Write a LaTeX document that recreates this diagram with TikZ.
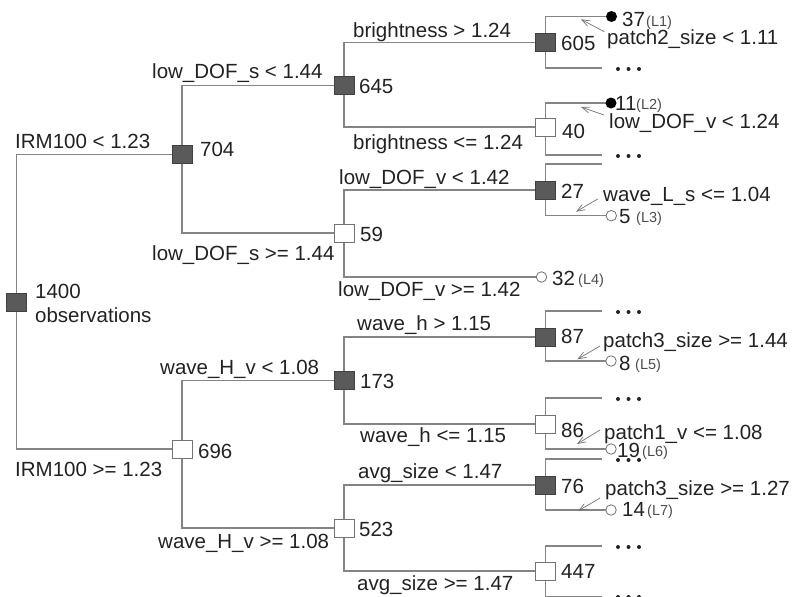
\documentclass[tikz,border=0pt]{standalone}
\usepackage{fontspec}
\setmainfont{Liberation Sans}
\usetikzlibrary{arrows.meta,backgrounds}
\definecolor{linegray}{HTML}{858585}
\definecolor{boxdark}{HTML}{5A5A5A}
\definecolor{txt}{HTML}{222222}
\begin{document}
\begin{tikzpicture}[x=1pt,y=-1pt,
  every node/.style={text=txt},
  dk/.style={draw=black!75, fill=boxdark, minimum width=20pt, minimum height=18pt, inner sep=0pt, line width=0.8pt},
  wt/.style={draw=black!55, fill=white, minimum width=20pt, minimum height=18pt, inner sep=0pt, line width=0.8pt},
  lf/.style={circle, draw=black!55, fill=white, minimum size=10.5pt, inner sep=0pt, line width=0.8pt},
  lfb/.style={circle, fill=black, minimum size=11pt, inner sep=0pt},
  conn/.style={draw=linegray, line width=1.3pt},
  lab/.style={anchor=base west, inner sep=0pt, font=\fontsize{20.5}{24}\selectfont},
  sm/.style={anchor=base west, inner sep=0pt, font=\fontsize{14.5}{16}\selectfont, text=black!70},
  arr/.style={draw=black!55, line width=0.7pt, -{Straight Barb[length=8pt,width=6pt]}},
  edot/.style={fill=txt},
]
\useasboundingbox (0,0) rectangle (793,597);
% boxes
\node[dk] (n1400) at (16.5,302) {};
\node[dk] (n704) at (182,154.5) {};
\node[wt] (n696) at (182,449) {};
\node[dk] (n645) at (344,85.5) {};
\node[wt] (n59) at (344,233) {};
\node[dk] (n173) at (344,380.5) {};
\node[wt] (n523) at (344,528) {};
\node[dk] (n605) at (545.5,42.5) {};
\node[wt] (n40) at (545.5,127) {};
\node[dk] (n27) at (545.5,190) {};
\node[dk] (n87) at (545.5,337) {};
\node[wt] (n86) at (545.5,424) {};
\node[dk] (n76) at (545.5,485) {};
\node[wt] (n447) at (545.5,571) {};
% leaves
\node[lfb] (L1) at (611.5,16.5) {};
\node[lfb] (L2) at (611,103) {};
\node[lf] (L3) at (611.3,215.7) {};
\node[lf] (L4) at (541.5,277) {};
\node[lf] (L5) at (611,361) {};
\node[lf] (L6) at (611,449) {};
\node[lf] (L7) at (611,510) {};
% open ends
\coordinate (e605) at (602,68);
\coordinate (e40) at (602,155);
\coordinate (e27) at (602,164);
\coordinate (e87) at (602,311);
\coordinate (e86) at (602,398);
\coordinate (e76) at (602,459);
\coordinate (e447a) at (602,546);
\coordinate (e447b) at (602,597);
\begin{pgfonlayer}{background}
\draw[conn] (n1400.center) |- (n704.center);
\draw[conn] (n1400.center) |- (n696.center);
\draw[conn] (n704.center) |- (n645.center);
\draw[conn] (n704.center) |- (n59.center);
\draw[conn] (n696.center) |- (n173.center);
\draw[conn] (n696.center) |- (n523.center);
\draw[conn] (n645.center) |- (n605.center);
\draw[conn] (n645.center) |- (n40.center);
\draw[conn] (n59.center) |- (n27.center);
\draw[conn] (n59.center) |- (L4.center);
\draw[conn] (n173.center) |- (n87.center);
\draw[conn] (n173.center) |- (n86.center);
\draw[conn] (n523.center) |- (n76.center);
\draw[conn] (n523.center) |- (n447.center);
\draw[conn] (n605.center) |- (L1.center);
\draw[conn] (n605.center) |- (e605);
\draw[conn] (n40.center) |- (L2.center);
\draw[conn] (n40.center) |- (e40);
\draw[conn] (n27.center) |- (e27);
\draw[conn] (n27.center) |- (L3.center);
\draw[conn] (n87.center) |- (e87);
\draw[conn] (n87.center) |- (L5.center);
\draw[conn] (n86.center) |- (e86);
\draw[conn] (n86.center) |- (L6.center);
\draw[conn] (n76.center) |- (e76);
\draw[conn] (n76.center) |- (L7.center);
\draw[conn] (n447.center) |- (e447a);
\draw[conn] (n447.center) |- (e447b);
\end{pgfonlayer}
% ellipsis dots
\foreach \yy in {69,156,312,399,460,547,597}{
  \foreach \xx in {618,628.5,639}{
    \fill[edot] (\xx,\yy) circle (2pt);
  }
}
% split labels
\node[lab] (t1) at (15,148) {IRM100 < 1.23};
\node[lab] (t2) at (15,476) {IRM100 >= 1.23};
\node[lab] (t3) at (152,78) {low\_DOF\_s < 1.44};
\node[lab] (t4) at (152,260) {low\_DOF\_s >= 1.44};
\node[lab] (t5) at (160,374) {wave\_H\_v < 1.08};
\node[lab] (t6) at (158,548) {wave\_H\_v >= 1.08};
\node[lab] (t7) at (353,37) {brightness > 1.24};
\node[lab] (t8) at (353,149) {brightness <= 1.24};
\node[lab] (t9) at (339,184) {low\_DOF\_v < 1.42};
\node[lab] (t10) at (338,296.5) {low\_DOF\_v >= 1.42};
\node[lab] (t11) at (357,330.5) {wave\_h > 1.15};
\node[lab] (t12) at (360,442.5) {wave\_h <= 1.15};
\node[lab] (t13) at (358,478) {avg\_size < 1.47};
\node[lab] (t14) at (357,590) {avg\_size >= 1.47};
\node[lab] (t15) at (607,45) {patch2\_size < 1.11};
\node[lab] (t16) at (609,128) {low\_DOF\_v < 1.24};
\node[lab] (t17) at (603,201.5) {wave\_L\_s <= 1.04};
\node[lab] (t18) at (603,347) {patch3\_size >= 1.44};
\node[lab] (t19) at (604,439.5) {patch1\_v <= 1.08};
\node[lab] (t20) at (605,495) {patch3\_size >= 1.27};
% counts
\node[lab] (c1400) at (35,298) {1400};
\node[lab] (cobs) at (35,322) {observations};
\node[lab] (c704) at (200,156) {704};
\node[lab] (c696) at (198,458) {696};
\node[lab] (c645) at (359,93) {645};
\node[lab] (c59) at (360,241) {59};
\node[lab] (c173) at (360,388) {173};
\node[lab] (c523) at (359,536) {523};
\node[lab] (c605) at (561,50) {605};
\node[lab] (c40) at (562,138) {40};
\node[lab] (c27) at (561,198) {27};
\node[lab] (c87) at (561,343) {87};
\node[lab] (c86) at (561,437) {86};
\node[lab] (c76) at (561,493) {76};
\node[lab] (c447) at (561,578) {447};
% leaf counts
\node[lab] (v1) at (622,27) {37};
\node[sm] (w1) at (646,26) {(L1)};
\node[lab] (v2) at (615,110) {11};
\node[sm] (w2) at (636,109) {(L2)};
\node[lab] (v3) at (619,223) {5};
\node[sm] (w3) at (636,222) {(L3)};
\node[lab] (v4) at (552,285) {32};
\node[sm] (w4) at (578,284) {(L4)};
\node[lab] (v5) at (619,370) {8};
\node[sm] (w5) at (635,369) {(L5)};
\node[lab] (v6) at (617,457.5) {19};
\node[sm] (w6) at (642,456.5) {(L6)};
\node[lab] (v7) at (622,516) {14};
\node[sm] (w7) at (647,515) {(L7)};
% arrows
\coordinate (a1s) at (604.3,31.7); \coordinate (a1t) at (581,19.3);
\coordinate (a2s) at (604,115);    \coordinate (a2t) at (581,107);
\coordinate (a3s) at (597.7,199);  \coordinate (a3t) at (576,211.7);
\coordinate (a5s) at (600,346);    \coordinate (a5t) at (577.3,359.3);
\coordinate (a6s) at (600,430);    \coordinate (a6t) at (577,444);
\coordinate (a7s) at (600,498);    \coordinate (a7t) at (578,511);
\draw[arr] (a1s) -- (a1t);
\draw[arr] (a2s) -- (a2t);
\draw[arr] (a3s) -- (a3t);
\draw[arr] (a5s) -- (a5t);
\draw[arr] (a6s) -- (a6t);
\draw[arr] (a7s) -- (a7t);
\end{tikzpicture}
\end{document}
